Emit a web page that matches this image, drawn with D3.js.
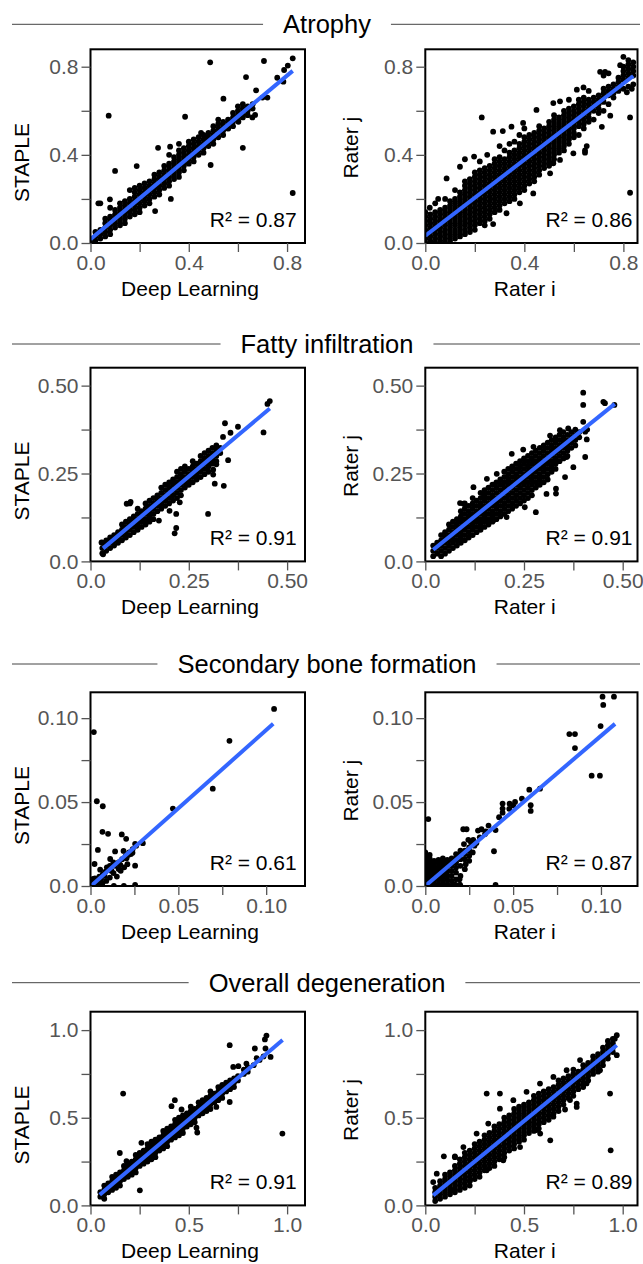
<!DOCTYPE html>
<html><head><meta charset="utf-8">
<script src="https://cdn.jsdelivr.net/npm/d3@7"></script>
<style>body{margin:0;background:#fff}svg{display:block;font-family:"Liberation Sans",Arial,Helvetica,sans-serif}</style>
</head><body>
<svg id="c" width="643" height="1264"></svg>
<script>
const sectionTitles = ["Atrophy","Fatty infiltration","Secondary bone formation","Overall degeneration"];
const xTitles = ["Deep Learning","Rater i"];
const yTitles = ["STAPLE","Rater j"];
const r2Labels = [["0.87","0.86"],["0.91","0.91"],["0.61","0.87"],["0.91","0.89"]];
const tickValues = [[0,.2,.4,.6,.8],[0,.125,.25,.375,.5],[0,.025,.05,.075,.1],[0,.25,.5,.75,1]];
const tickLabels = [["0.0","0.4","0.8"],["0.0","0.25","0.50"],["0.0","0.05","0.10"],["0.0","0.5","1.0"]];
const xMax = [[.873,.857],[.5455,.5375],[.1221,.1208],[1.091,1.075]];
const yMax = [.879,.551,.1154,1.105];
// fitted regression lines [[x0,y0],[x1,y1]]
const fitLines = [
 [[[0,.017],[.823,.781]],[[0,.033],[.84,.758]]],
 [[[.032,.037],[.456,.435]],[[.02,.033],[.48,.448]]],
 [[[.0003,0],[.104,.0966]],[[.0004,.0004],[.108,.0966]]],
 [[[.047,.061],[.977,.943]],[[.04,.057],[.97,.914]]]
];

// ---- Atrophy: Deep Learning vs STAPLE ----
const atrophyDLCols = [
[0,[0,.02]],[.02,[.01,.03,.05]],[.04,[.02,.04,.06]],[.06,[.03,.05,.07,.09,.11]],[.08,[.04,.06,.08,.1,.12,.16]],
[.1,[.07,.09,.11,.13,.15]],[.12,[.08,.1,.12,.14,.16,.18]],[.14,[.09,.11,.13,.15,.17,.19]],
[.16,[.12,.14,.16,.18,.2,.24]],[.18,[.13,.15,.17,.19,.21,.23,.25]],[.2,[.14,.16,.18,.2,.22,.24,.26]],
[.22,[.17,.19,.21,.23,.25,.27]],[.24,[.18,.2,.22,.24,.26,.28]],[.26,[.21,.23,.25,.27,.29,.31]],
[.28,[.22,.24,.26,.28,.3,.32]],[.3,[.25,.27,.29,.31,.33,.35]],[.32,[.26,.28,.3,.32,.34,.36,.4]],
[.34,[.29,.31,.33,.35,.37,.39]],[.36,[.3,.32,.34,.36,.38,.4,.42]],[.38,[.33,.35,.37,.39,.41,.43]],
[.4,[.36,.38,.4,.42,.44]],[.42,[.37,.39,.41,.43,.45,.47]],[.44,[.4,.42,.44,.46,.48]],
[.46,[.41,.43,.45,.47,.49]],[.48,[.44,.46,.48,.5]],[.5,[.45,.47,.49,.51,.53]],[.52,[.48,.5,.52,.54]],
[.54,[.49,.51,.53,.55]],[.56,[.52,.54,.56]],[.58,[.53,.55,.57,.59]],[.6,[.56,.58,.6,.62]],
[.62,[.57,.59,.61,.63]],[.64,[.58,.6,.62]],[.66,[.61,.63]],[.7,[.66]]
];
const atrophyDLPts = [[.487,.82],[.706,.826],[.823,.838],[.803,.805],[.788,.785],[.785,.732],[.633,.753],
[.674,.693],[.541,.655],[.385,.573],[.074,.578],[.1,.327],[.823,.227],[.62,.432],[.489,.354],[.67,.581],
[.659,.57],[.602,.55],[.032,.18],[.04,.18],[.079,.198],[.327,.2],[.263,.145],[.188,.349],[.275,.432],
[.324,.437],[.72,.66],[.76,.75],[.56,.52],[.47,.48],[.45,.5],[.52,.56],[.36,.45],[.4,.46]];

// ---- Atrophy: Rater i vs Rater j ----
const atrophyRRCols = [
[0,[0,.02,.04,.06,.08,.1,.12,.14]],[.02,[.01,.03,.05,.07,.09,.11,.13]],
[.04,[0,.02,.04,.06,.08,.1,.12,.14,.18]],[.06,[.01,.03,.05,.07,.09,.11,.13,.15]],
[.08,[0,.02,.04,.06,.08,.1,.12,.14,.16,.2]],[.1,[.01,.03,.05,.07,.09,.11,.13,.15,.17,.19]],
[.12,[.02,.04,.06,.08,.1,.12,.14,.16,.18,.2,.24]],[.14,[.03,.05,.07,.09,.11,.13,.15,.17,.19,.21,.23]],
[.16,[.04,.06,.08,.1,.12,.14,.16,.18,.2,.22,.24,.26,.28,.38]],[.18,[.05,.07,.09,.11,.13,.15,.17,.19,.21,.23,.25,.27,.29]],
[.2,[.08,.1,.12,.14,.16,.18,.2,.22,.24,.26,.28,.3,.32]],[.22,[.09,.11,.13,.15,.17,.19,.21,.23,.25,.27,.29,.31,.33,.37]],
[.24,[.1,.12,.14,.16,.18,.2,.22,.24,.26,.28,.3,.32,.34]],[.26,[.11,.13,.15,.17,.19,.21,.23,.25,.27,.29,.31,.33,.35]],
[.28,[.14,.16,.18,.2,.22,.24,.26,.28,.3,.32,.34,.36,.38]],[.3,[.15,.17,.19,.21,.23,.25,.27,.29,.31,.33,.35,.37,.39]],
[.32,[.18,.2,.22,.24,.26,.28,.3,.32,.34,.36,.38,.42]],[.34,[.19,.21,.23,.25,.27,.29,.31,.33,.35,.37,.39,.41,.45]],
[.36,[.2,.22,.24,.26,.28,.3,.32,.34,.36,.38,.4,.42,.46]],[.38,[.23,.25,.27,.29,.31,.33,.35,.37,.39,.41,.43,.45,.49]],
[.4,[.24,.26,.28,.3,.32,.34,.36,.38,.4,.42,.44,.46,.48,.52]],[.42,[.27,.29,.31,.33,.35,.37,.39,.41,.43,.45,.47,.49]],
[.44,[.28,.3,.32,.34,.36,.38,.4,.42,.44,.46,.48,.5]],[.46,[.31,.33,.35,.37,.39,.41,.43,.45,.47,.49,.51,.53]],
[.48,[.34,.36,.38,.4,.42,.44,.46,.48,.5,.52]],[.5,[.35,.37,.39,.41,.43,.45,.47,.49,.51,.53,.55]],
[.52,[.38,.4,.42,.44,.46,.48,.5,.52,.54,.56,.58]],[.54,[.41,.43,.45,.47,.49,.51,.53,.55,.57]],
[.56,[.42,.44,.46,.48,.5,.52,.54,.56,.58,.6]],[.58,[.45,.47,.49,.51,.53,.55,.57,.59,.61,.65]],
[.6,[.48,.5,.52,.54,.56,.58,.6,.62]],[.62,[.49,.53,.55,.57,.59,.61,.63,.65]],
[.64,[.52,.54,.56,.58,.6,.62,.64,.66]],[.66,[.55,.57,.59,.61,.63,.65,.69]],[.68,[.56,.6,.62,.64,.66]],
[.7,[.59,.61,.63,.65,.67]],[.72,[.6,.64,.66,.68,.7,.76]],[.74,[.63,.67,.69,.71,.77]],[.76,[.66,.68,.7,.72]],
[.78,[.69,.71,.73,.75]],[.8,[.7,.74,.76,.78,.8]],[.82,[.71,.75,.77,.79,.81,.83]],[.84,[.72,.76,.78,.8,.82]]
];
const atrophyRRPts = [[.228,.57],[.827,.57],[.827,.228],[.645,.42],[.645,.41],[.504,.316],[.313,.508],
[.197,.392],[.086,.293],[.14,.346],[.052,.2],[.018,.16],[.274,.086],[.328,.135],[.382,.18],[.436,.225],
[.517,.362],[.544,.377],[.598,.407],[.652,.44],[.713,.527],[.747,.578],[.814,.684],[.834,.7],
[.274,.505],[.348,.528],[.395,.545],[.449,.604],[.517,.635],[.544,.643],[.612,.696],[.639,.706],
[.706,.777],[.726,.777],[.787,.807],[.8,.845],[.25,.4],[.3,.44],[.2,.06],[.24,.08]];

// ---- Fatty infiltration: Deep Learning vs STAPLE ----
const fattyDLCols = [
[.03,[.023,.038,.053]],[.04,[.03,.045,.06]],[.05,[.038,.053,.068]],[.06,[.045,.06,.075]],[.07,[.053,.068,.083]],
[.08,[.06,.075,.09,.105]],[.09,[.068,.083,.098,.113]],[.1,[.075,.09,.105,.12,.165]],[.11,[.083,.098,.113,.128]],
[.12,[.09,.105,.12,.135,.15]],[.13,[.098,.113,.128,.143]],[.14,[.105,.12,.135,.15,.165]],
[.15,[.113,.128,.143,.158,.173]],[.16,[.12,.135,.15,.165,.18]],[.17,[.143,.158,.173,.188]],
[.18,[.15,.165,.18,.195,.21]],[.19,[.158,.173,.188,.203,.218]],[.2,[.165,.18,.195,.21,.225]],
[.21,[.173,.188,.203,.218,.233]],[.22,[.18,.195,.21,.225,.24,.255]],[.23,[.188,.203,.218,.233,.248,.263]],
[.24,[.21,.225,.24,.255,.27]],[.25,[.218,.233,.248,.263]],[.26,[.225,.24,.255,.27,.285]],
[.27,[.233,.248,.263,.278]],[.28,[.24,.255,.27,.285,.3]],[.29,[.248,.263,.278,.293,.308]],
[.3,[.255,.27,.285,.3,.315]],[.31,[.278,.293,.308,.323]],[.32,[.285,.3,.315,.33]],[.33,[.308,.323]]
];
const fattyDLPts = [[.45,.448],[.456,.456],[.44,.367],[.342,.393],[.375,.383],[.356,.366],[.337,.354],
[.35,.288],[.32,.276],[.312,.247],[.312,.261],[.339,.215],[.316,.221],[.299,.135],[.227,.168],[.218,.135],
[.218,.095],[.214,.08],[.174,.116],[.201,.144],[.092,.164],[.102,.169],[.032,.02],[.028,.054]];

// ---- Fatty infiltration: Rater i vs Rater j ----
const fattyRRCols = [
[.02,[.015,.03,.045]],[.03,[.022,.038,.053]],[.04,[.015,.03,.045,.06,.075]],[.05,[.022,.038,.053,.068,.083]],
[.06,[.03,.045,.06,.075,.09,.105]],[.07,[.038,.053,.068,.083,.098,.113]],[.08,[.045,.06,.075,.09,.105,.12]],
[.09,[.053,.068,.083,.098,.113,.128,.143]],[.1,[.06,.075,.09,.105,.12,.135,.15,.165]],
[.11,[.068,.083,.098,.113,.128,.143,.158]],[.12,[.075,.09,.105,.12,.135,.15,.165,.18]],
[.13,[.083,.098,.113,.128,.143,.158,.173]],[.14,[.09,.105,.12,.135,.15,.165,.18,.195]],
[.15,[.098,.113,.128,.143,.158,.173,.188,.203]],[.16,[.105,.12,.135,.15,.165,.18,.195,.21]],
[.17,[.113,.128,.143,.158,.173,.188,.203,.218]],[.18,[.12,.135,.15,.165,.18,.195,.21,.225]],
[.19,[.128,.143,.158,.173,.188,.203,.218,.233]],[.2,[.135,.15,.165,.18,.195,.21,.225,.24,.255]],
[.21,[.143,.158,.173,.188,.203,.218,.233,.248,.263]],[.22,[.15,.165,.18,.195,.21,.225,.24,.255,.27]],
[.23,[.158,.173,.188,.203,.218,.233,.248,.263,.278]],[.24,[.165,.18,.195,.21,.225,.24,.255,.27,.285]],
[.25,[.173,.188,.203,.218,.233,.248,.263,.278,.293]],[.26,[.18,.195,.21,.225,.24,.255,.27,.285,.3]],
[.27,[.188,.203,.218,.233,.248,.263,.278,.293,.308]],[.28,[.21,.225,.24,.255,.27,.285,.3,.315]],
[.29,[.218,.233,.248,.263,.278,.293,.308,.323]],[.3,[.225,.24,.255,.27,.285,.3,.315,.33]],
[.31,[.233,.248,.263,.278,.293,.308,.323,.338]],[.32,[.255,.27,.285,.3,.315,.33,.345]],
[.33,[.263,.278,.293,.308,.323,.338,.353]],[.34,[.285,.3,.315,.33,.345,.36]],
[.35,[.293,.308,.323,.338,.353,.368]],[.36,[.3,.315,.33,.345,.36]],[.37,[.323,.338,.353,.368]],
[.38,[.33,.345,.36,.375]],[.39,[.353,.368]],[.41,[.375]]
];
const fattyRRPts = [[.4,.48],[.4,.445],[.4,.397],[.451,.454],[.455,.45],[.479,.445],[.405,.369],[.409,.347],
[.358,.297],[.331,.207],[.331,.193],[.28,.14],[.252,.154],[.219,.306],[.248,.318],[.147,.193],[.097,.164],[.122,.211],
[.088,.166],[.156,.235],[.181,.249],[.274,.326],[.316,.358],[.341,.373],[.362,.378],[.138,.097],[.172,.116],
[.206,.126],[.307,.192],[.354,.24],[.375,.268],[.405,.297]];

// ---- Secondary bone formation: Deep Learning vs STAPLE ----
const boneDLCols = [];
const boneDLPts = [[.0019,.0917],[.1045,.1055],[.0791,.0865],[.0696,.058],[.0469,.0461],[.0036,.0505],
[.007,.0475],[.0068,.0323],[.01,.0311],[.0178,.0307],[.0203,.0281],[.0042,.0215],[.0188,.0209],[.0298,.0255],
[.0254,.0251],[.0239,.0198],[.014,.0206],[.0023,.0131],[.0055,.0097],[.0093,.0111],[.0112,.0161],[.0131,.0077],
[.016,.0101],[.0172,.0091],[.0192,.0111],[.015,.0056],[.0254,.0121],[.0133,0],[.019,0],[.0254,.0007],
[.0049,.0007],[.0068,.0017],[.004,.0034],[.0015,.0043],[0,.001],[.001,.0005],[.002,.002],[.003,.0008],
[.0008,.0028],[.0025,.0045],[.006,.004],[.008,.006],[.009,.003],[.011,.005],[.012,.009],[.014,.012],
[.016,.014],[.018,.016],[.02,.018],[.022,.02],[.024,.022],[.026,.024],[.013,.014],[.011,.012],[.0085,.0085],
[.007,.007],[.005,.0055],[.017,.0125],[.021,.013],[.0205,.0165],[.023,.019],[.0215,.0185]];

// ---- Secondary bone formation: Rater i vs Rater j ----
const boneRRCols = [
[0,[0,.0025,.005,.0075,.01,.0125,.015,.0175,.02]],[.0025,[.001,.0038,.0063,.0088,.0113,.0138,.0163,.0185]],
[.005,[0,.0025,.005,.0075,.01,.0125,.015]],[.0075,[.001,.0038,.0063,.0088,.0113,.0138,.0155]],
[.01,[0,.0025,.005,.0075,.01,.0125,.015,.0165]],[.0125,[.001,.0038,.0063,.0088,.0113,.0138,.0155]],
[.015,[0,.003,.006,.009,.012,.014,.0165]],[.0175,[.0005,.004,.008,.011,.014,.0165,.019]],
[.02,[0,.006,.012,.016,.019,.021]],[.0225,[.01,.016,.019,.021]],[.025,[.018,.021,.023]]
];
const boneRRPts = [[.1074,.1128],[.1009,.1128],[.1013,.1079],[.0998,.0953],[.0947,.0657],[.0994,.0657],
[.082,.0905],[.0852,.0905],[.0852,.0822],[.0653,.058],[.0592,.0574],[.06,.0481],[.06,.0447],[.0511,.0501],
[.055,.052],[.044,.0491],[.044,.0461],[.044,.0437],[.0478,.046],[.04,.0333],[.0391,.0207],[.04,.0006],
[.032,.0338],[.0216,.0338],[.0235,.0338],[.0273,.0275],[.0291,.0256],[.0245,.0275],[.0017,.0399],
[.0197,.0008],[.0168,.0008],[.0151,0],[.031,.029],[.034,.031],[.028,.024],[.026,.026],[.022,.025],
[.03,.033],[.036,.036],[.0345,.0325],[.042,.041],[.05,.048],[.048,.049],[.025,.015],[.027,.02],[.023,.013],[.0195,.004]];

// ---- Overall degeneration: Deep Learning vs STAPLE ----
const overallDLCols = [
[.05,[.05,.075]],[.07,[.038,.063,.088,.113]],[.09,[.075,.1,.125]],[.11,[.088,.113,.138,.163]],
[.13,[.1,.125,.15,.175]],[.15,[.113,.138,.163,.188]],[.17,[.15,.175,.2,.225]],[.19,[.163,.188,.213,.238]],
[.21,[.175,.2,.225,.25]],[.23,[.188,.213,.238,.263,.288]],[.25,[.225,.25,.275,.3]],[.27,[.238,.263,.288,.313]],
[.29,[.25,.275,.3,.325,.35]],[.31,[.263,.288,.313,.338,.363]],[.33,[.275,.3,.325,.35,.375]],
[.35,[.313,.338,.363,.388]],[.37,[.325,.35,.375,.4,.425]],[.39,[.338,.363,.388,.413,.438]],
[.41,[.375,.4,.425,.45]],[.43,[.388,.413,.438,.463,.488]],[.45,[.4,.425,.45,.475,.5]],
[.47,[.413,.438,.463,.488,.513]],[.49,[.45,.475,.5,.525]],[.51,[.463,.488,.513,.538,.563]],
[.53,[.475,.5,.525,.55]],[.55,[.513,.538,.563,.588]],[.57,[.525,.55,.575,.6]],[.59,[.538,.563,.588,.613]],
[.61,[.55,.575,.6,.625,.65]],[.63,[.588,.613,.638]],[.65,[.6,.625,.65,.675]],[.67,[.613,.638,.663,.688]],
[.69,[.65,.675,.7]],[.71,[.663,.688,.713]],[.73,[.675,.7,.725]],[.75,[.713,.738]],[.78,[.75,.775]],
[.8,[.763,.788]],[.83,[.8]],[.86,[.83]],[.88,[.85]]
];
const overallDLPts = [[.895,.969],[.887,.947],[.708,.914],[.836,.895],[.89,.895],[.916,.847],[.845,.84],
[.976,.41],[.708,.59],[.166,.638],[.251,.086],[.149,.299],[.183,.253],[.259,.357],[.543,.416],[.539,.443],
[.463,.547],[.429,.6],[.412,.566],[.64,.562],[.793,.809],[.726,.79],[.752,.794]];

// ---- Overall degeneration: Rater i vs Rater j ----
const overallRRCols = [
[.05,[.025,.05,.075,.1]],[.075,[.038,.063,.088,.113,.138]],[.1,[.05,.075,.1,.125,.15,.175]],
[.125,[.063,.088,.113,.138,.163,.188]],[.15,[.075,.1,.125,.15,.175,.2,.225,.275]],
[.175,[.088,.113,.138,.163,.188,.213,.238,.263]],[.2,[.1,.125,.15,.175,.2,.225,.25,.275,.3]],
[.225,[.113,.138,.163,.188,.213,.238,.263,.288,.313]],[.25,[.15,.175,.2,.225,.25,.275,.3,.325,.35]],
[.275,[.163,.188,.213,.238,.263,.288,.313,.338,.363]],[.3,[.2,.225,.25,.275,.3,.325,.35,.375,.4]],
[.325,[.213,.238,.263,.288,.313,.338,.363,.388,.413]],[.35,[.225,.25,.275,.3,.325,.35,.375,.4,.425,.45]],
[.375,[.263,.288,.313,.338,.363,.388,.413,.438,.463]],[.4,[.275,.3,.325,.35,.375,.4,.425,.45,.475,.5]],
[.425,[.313,.338,.363,.388,.413,.438,.463,.488,.513]],[.45,[.325,.35,.375,.4,.425,.45,.475,.5,.525,.55]],
[.475,[.363,.388,.413,.438,.463,.488,.513,.538,.563]],[.5,[.375,.4,.425,.45,.475,.5,.525,.55,.575]],
[.525,[.413,.438,.463,.488,.513,.538,.563,.588]],[.55,[.425,.45,.475,.5,.525,.55,.575,.6,.625]],
[.575,[.438,.463,.488,.513,.538,.563,.588,.613,.638]],[.6,[.475,.5,.525,.55,.575,.6,.625,.65]],
[.625,[.488,.513,.538,.563,.588,.613,.638,.663]],[.65,[.525,.55,.575,.6,.625,.65,.675]],
[.675,[.538,.563,.588,.613,.638,.663,.688,.713]],[.7,[.575,.6,.625,.65,.675,.7,.725]],
[.725,[.613,.638,.663,.688,.713,.738]],[.75,[.625,.65,.675,.7,.725,.75,.775]],
[.775,[.663,.688,.713,.738,.763]],[.8,[.675,.7,.725,.75,.775,.8]],[.825,[.713,.738,.763,.788,.813]],
[.85,[.75,.775,.8,.825,.85]],[.875,[.763,.788,.813,.838,.863]],[.9,[.8,.825,.85,.875,.9]],
[.925,[.838,.863,.888,.913,.938]],[.95,[.875,.9,.925,.95]]
];
const overallRRPts = [[.97,.971],[.97,.857],[.936,.638],[.939,.314],[.311,.638],[.378,.638],[.633,.371],
[.767,.581],[.767,.562],[.708,.547],[.582,.41],[.094,.28],[.15,.28],[.04,.133],[.96,.95],
[.058,.181],[.193,.333],[.26,.41],[.319,.467],[.378,.552],[.446,.6],[.513,.648],[.581,.695],[.649,.733],
[.716,.771],[.784,.829],[.142,.086],[.226,.143],[.311,.2],[.395,.257],[.48,.333],[.564,.43],[.649,.506],
[.733,.601],[.817,.696],[.885,.771]];

const expand = (cols, pts) => cols.flatMap(([x, ys]) => ys.map(y => [x, y])).concat(pts);
const panelData = [
 [expand(atrophyDLCols, atrophyDLPts), expand(atrophyRRCols, atrophyRRPts)],
 [expand(fattyDLCols, fattyDLPts), expand(fattyRRCols, fattyRRPts)],
 [expand(boneDLCols, boneDLPts), expand(boneRRCols, boneRRPts)],
 [expand(overallDLCols, overallDLPts), expand(overallRRCols, overallRRPts)]
];

// ---- layout ----
const FONT = '"Liberation Sans",Arial,Helvetica,sans-serif';
const boxX = [[90.5,305],[425.3,637.5]];
const boxTop = [49.3,367.7,692.3,1011.7], boxH = 193.7;
const ruleY = [24.3,344,664,982.7];
const titleCX = 327;
const svg = d3.select("#c");

sectionTitles.forEach((title, s) => {
  const g = svg.append("g");
  const t = g.append("text").attr("x", titleCX).attr("y", ruleY[s] + 9)
    .attr("text-anchor", "middle").attr("font-size", 25.5).attr("fill", "#000").text(title);
  const w = t.node().getComputedTextLength();
  g.append("line").attr("x1", 12).attr("x2", titleCX - w/2 - 20).attr("y1", ruleY[s]).attr("y2", ruleY[s])
    .attr("stroke", "#444").attr("stroke-width", 1);
  g.append("line").attr("x1", titleCX + w/2 + 20).attr("x2", 640).attr("y1", ruleY[s]).attr("y2", ruleY[s])
    .attr("stroke", "#444").attr("stroke-width", 1);

  [0,1].forEach(p => {
    const [x0, x1] = boxX[p];
    const y0 = boxTop[s], y1 = y0 + boxH;
    const x = d3.scaleLinear().domain([0, xMax[s][p]]).range([x0, x1]);
    const y = d3.scaleLinear().domain([0, yMax[s]]).range([y1, y0]);
    const pg = g.append("g");
    const cid = `clip${s}${p}`;
    pg.append("clipPath").attr("id", cid).append("rect")
      .attr("x", x0).attr("y", y0).attr("width", x1 - x0).attr("height", y1 - y0);
    const inner = pg.append("g").attr("clip-path", `url(#${cid})`);
    inner.selectAll("circle").data(panelData[s][p]).join("circle")
      .attr("cx", d => x(d[0])).attr("cy", d => y(d[1])).attr("r", 2.9).attr("fill", "#000");
    const fl = fitLines[s][p];
    inner.append("line").attr("x1", x(fl[0][0])).attr("y1", y(fl[0][1]))
      .attr("x2", x(fl[1][0])).attr("y2", y(fl[1][1]))
      .attr("stroke", "#3366FF").attr("stroke-width", 4);
    pg.append("rect").attr("x", x0).attr("y", y0).attr("width", x1 - x0).attr("height", y1 - y0)
      .attr("fill", "none").attr("stroke", "#000").attr("stroke-width", 2);

    const fmt = (d, i) => i % 2 ? "" : tickLabels[s][i / 2];
    const xa = pg.append("g").attr("transform", `translate(0,${y1})`)
      .call(d3.axisBottom(x).tickValues(tickValues[s]).tickFormat(fmt).tickSize(9).tickPadding(3));
    const ya = pg.append("g").attr("transform", `translate(${x0},0)`)
      .call(d3.axisLeft(y).tickValues(tickValues[s]).tickFormat(fmt).tickSize(9).tickPadding(3));
    [xa, ya].forEach(a => {
      a.attr("font-family", FONT).attr("font-size", 21);
      a.select(".domain").remove();
      a.selectAll(".tick line").attr("stroke", "#555").attr("stroke-width", 1.3);
      a.selectAll(".tick text").attr("fill", "#555");
    });

    pg.append("text").attr("x", x1 - (p ? 5 : 8.3)).attr("y", y1 - 16).attr("text-anchor", "end")
      .attr("font-size", 21).attr("fill", "#000").text(`R\u00B2 = ${r2Labels[s][p]}`);
    pg.append("text").attr("x", x0 + 99.5).attr("y", y1 + 53).attr("text-anchor", "middle")
      .attr("font-size", 21).attr("fill", "#000").text(xTitles[p]);
    pg.append("text").attr("transform", `translate(${x0 + (p ? -67 : -61.5)},${y0 + (p ? 98.4 : 113.3)}) rotate(-90)`)
      .attr("text-anchor", "middle").attr("font-size", 21).attr("fill", "#000").text(yTitles[p]);
  });
});
</script>
</body></html>
